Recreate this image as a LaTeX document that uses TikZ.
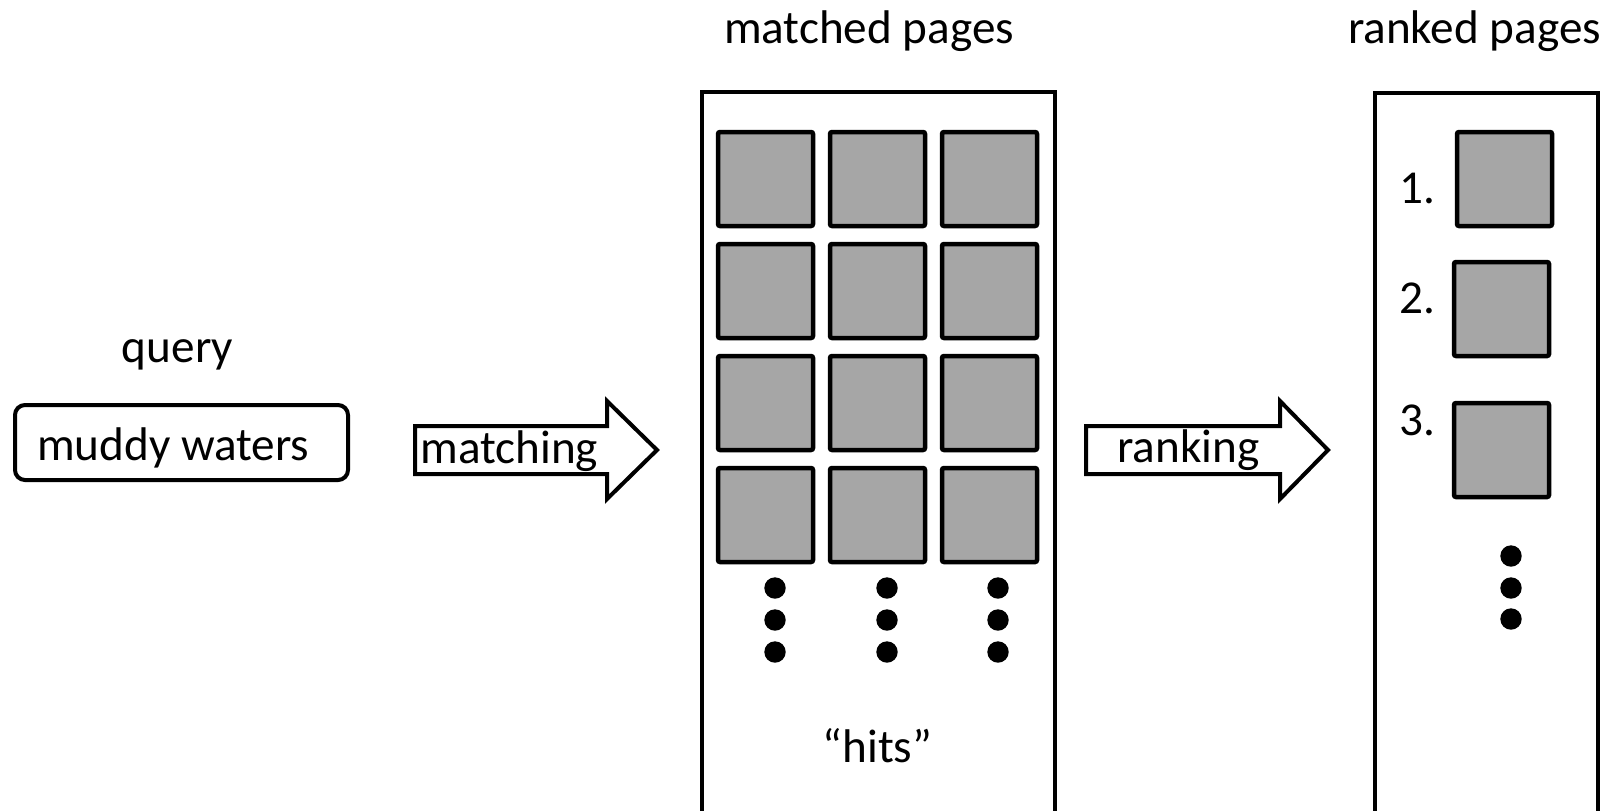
\documentclass[tikz,border=0pt]{standalone}
\usepackage{fontspec}
\setmainfont{Carlito}
\usetikzlibrary{positioning}
\definecolor{pagegray}{HTML}{A6A6A6}

\begin{document}
\begin{tikzpicture}[x=0.5pt,y=-0.5pt,
                    every node/.style={font=\fontsize{23.6}{28}\selectfont},
                    hit/.style={draw,line width=2.25pt,fill=pagegray,rounded corners=1pt,
                                minimum width=47.5pt,minimum height=47pt,inner sep=0pt},
                    pagebox/.style={draw,line width=2pt,minimum height=369pt,inner sep=0pt},
                    bigarrow/.style={draw,fill=white,line width=2pt,line join=miter}]
  \clip (0,0) rectangle (1615,810);

  % query
  \node[anchor=base] (Q) at (177.5,362) {query};
  \node[draw,line width=2pt,rounded corners=5pt,minimum width=166.5pt,minimum height=37.5pt,
        text height=17.5pt,text depth=0pt] (W) at (181.5,442.5)
        {\makebox[144.5pt][l]{muddy waters}};

  % matched pages
  \node[anchor=base] (MT) at (869,43) {matched pages};
  \node[pagebox,minimum width=176.5pt] (M) at (878.5,461) {};
  \foreach \c in {0,1,2}
    \foreach \r in {0,...,3}
      \node[hit] (h\r\c) at ({765.5+112*\c},{179+112*\r}) {};
  \foreach \x in {775,887,998}
    \foreach \y in {588,620,652}
      \fill (\x,\y) circle[radius=5.35pt];
  \node[anchor=base] (H) at (877.5,762) {“hits”};

  % ranked pages
  \node[anchor=base] (RT) at (1474.5,43) {ranked pages};
  \node[pagebox,minimum width=111.5pt] (R) at (1486.5,461.5) {};
  \node[hit] (r1) at (1504.5,179) {};
  \node[hit] (r2) at (1501.5,309) {};
  \node[hit] (r3) at (1501.5,450) {};
  \node[anchor=base east,inner sep=0pt] (n1) at (1436,203) {1.};
  \node[anchor=base east,inner sep=0pt] (n2) at (1436,313) {2.};
  \node[anchor=base east,inner sep=0pt] (n3) at (1436,435) {3.};
  \foreach \y in {556,588,619}
    \fill (1511,\y) circle[radius=5.35pt];

  % block arrows
  \foreach \a/\b/\c in {415/607/657,1086/1280/1328}
    \draw[bigarrow] (\a,426) -- (\b,426) -- (\b,401) -- (\c,450) -- (\b,499)
                    -- (\b,474) -- (\a,474) -- cycle;
  \node[anchor=base west,inner sep=0pt] (m) at (420,463) {matching};
  \node[anchor=base west,inner sep=0pt] (k) at (1117,462) {ranking};

\end{tikzpicture}
\end{document}
